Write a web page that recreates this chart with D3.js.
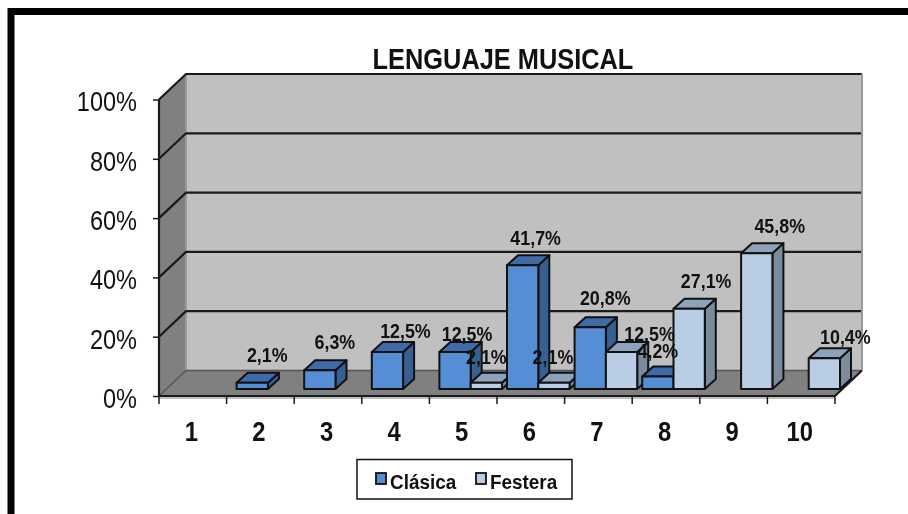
<!DOCTYPE html>
<html><head><meta charset="utf-8">
<script src="https://cdn.jsdelivr.net/npm/d3@7"></script>
<style>html,body{margin:0;padding:0;background:#fff}svg{display:block;filter:blur(0.35px)}text{font-family:"Liberation Sans",Arial,sans-serif;fill:#111}</style>
</head><body><div id="chart"></div>
<script>
const categories = ["1","2","3","4","5","6","7","8","9","10"];
const clasica = [0,2.1,6.3,12.5,12.5,41.7,20.8,4.2,0,0];
const festera = [0,0,0,0,2.1,2.1,12.5,27.1,45.8,10.4];
const seriesNames = ["Clásica","Festera"];
const yTicks = [0,20,40,60,80,100];
const title = "LENGUAJE MUSICAL";

const W=908,H=514;
const fmt = v => v.toFixed(1).replace(".",",")+"%";
const palette=[{front:"#558ed5",top:"#3f6ca8",side:"#375f90"},{front:"#b9cde5",top:"#8fa2bb",side:"#7a8b9e"}];
// label nudges relative to the bar's top-centre [dx,dy], manual in the source chart
const nudge=[
 {1:[15,-21],2:[15,-21],3:[18,-14],4:[12,-11],5:[13,-20],6:[15,-22],7:[0,-19]},
 {4:[0,-19],5:[-1,-19],6:[28,-11],7:[17,-21],8:[23,-20],9:[21,-14]}
];
const svg=d3.select("#chart").append("svg").attr("width",W).attr("height",H);
const squeeze=(t,f)=>t.each(function(){const w=this.getComputedTextLength();d3.select(this).attr("textLength",w*f).attr("lengthAdjust","spacingAndGlyphs");});

// frame
svg.append("rect").attr("x",11).attr("y",11.5).attr("width",W+20).attr("height",H+20).attr("fill","#fff").attr("stroke","#000").attr("stroke-width",7);

const x0=159,x1=835,dx=27,dy=-25.5;
const x=d3.scaleBand().domain(categories).range([x0,x1]);
const y=d3.scaleLinear().domain([0,100]).range([396,99.5]);
const ink="#1a1a1a";

// walls and floor
svg.append("polygon").attr("points",[[x0+dx,y(0)+dy],[x1+dx,y(0)+dy],[x1+dx,y(100)+dy],[x0+dx,y(100)+dy]].join(" ")).attr("fill","#c0c0c0");
svg.append("polygon").attr("points",[[x0,y(0)],[x0+dx,y(0)+dy],[x0+dx,y(100)+dy],[x0,y(100)]].join(" ")).attr("fill","#808080");
svg.append("polygon").attr("points",[[x0,y(0)],[x1,y(0)],[x1+dx,y(0)+dy],[x0+dx,y(0)+dy]].join(" ")).attr("fill","#808080");
svg.append("line").attr("x1",x0+dx).attr("x2",x0+dx).attr("y1",y(100)+dy).attr("y2",y(0)+dy).attr("stroke","#999").attr("stroke-width",2);

// gridlines
svg.append("g").selectAll("polyline").data(yTicks).join("polyline")
 .attr("points",d=>[[x0,y(d)],[x0+dx,y(d)+dy],[x1+dx,y(d)+dy]].join(" "))
 .attr("fill","none").attr("stroke",d=>d===0?"#555":ink).attr("stroke-width",d=>d===0?1.5:2.2);
svg.append("line").attr("x1",x1+dx).attr("x2",x1+dx).attr("y1",y(100)+dy).attr("y2",y(0)+dy).attr("stroke","#999").attr("stroke-width",2);
svg.append("path").attr("d",`M${x1+dx},${y(0)+dy}L${x1},${y(0)}L${x0},${y(0)}L${x0},${y(100)}`).attr("fill","none").attr("stroke",ink).attr("stroke-width",2.2);
svg.append("line").attr("x1",x0).attr("x2",x1).attr("y1",y(0)+2).attr("y2",y(0)+2).attr("stroke","#aaa").attr("stroke-width",1.5);

// axes
const yAxis=svg.append("g").attr("transform",`translate(${x0},0)`).call(d3.axisLeft(y).tickValues(yTicks).tickSize(6).tickPadding(16).tickFormat(d=>d+"%"));
yAxis.select(".domain").remove();
yAxis.selectAll("line").attr("stroke",ink).attr("stroke-width",1.5);
yAxis.selectAll("text").attr("font-size",28.5).attr("fill","#111").attr("dy","0.4em").call(squeeze,0.825);

const xAxis=svg.append("g").attr("transform",`translate(0,${y(0)})`).call(d3.axisBottom(x).tickSize(0).tickPadding(33).tickFormat(d=>d));
xAxis.select(".domain").remove();
xAxis.selectAll("line").remove();
xAxis.selectAll("text").attr("font-size",28).attr("font-weight","bold").attr("fill","#111").attr("dy","0.42em").call(squeeze,0.85);
xAxis.selectAll("text").attr("x",-1.5);
svg.append("g").selectAll("line").data([...categories.map(c=>x(c)),x1]).join("line")
 .attr("x1",d=>d).attr("x2",d=>d).attr("y1",y(0)).attr("y2",y(0)+8).attr("stroke",ink).attr("stroke-width",1.5);

// bars
const shiftX=7.5, shiftY=-7, bx=11, by=-10;
const inner=d3.scaleBand().domain([0,1]).range([2.5,x.step()-2.5]);
const values=[clasica,festera];
const g=svg.append("g");
const bars=[];
categories.forEach((c,i)=>values.forEach((vals,s)=>{ if(vals[i]>0) bars.push({c,i,s,v:vals[i]}); }));
bars.forEach(b=>{
 const l=x(b.c)+inner(b.s)+shiftX, r=l+inner.bandwidth(), b0=y(0)+shiftY, t=y(b.v)+shiftY, p=palette[b.s];
 b.l=l;b.r=r;b.t=t;
 const st={stroke:"#111","stroke-width":2,"stroke-linejoin":"round"};
 const add=(pts,f)=>{const e=g.append("polygon").attr("points",pts.join(" ")).attr("fill",f);Object.entries(st).forEach(([k,v])=>e.attr(k,v));};
 add([[r,b0],[r+bx,b0+by],[r+bx,t+by],[r,t]],p.side);
 add([[l,t],[r,t],[r+bx,t+by],[l+bx,t+by]],p.top);
 add([[l,b0],[r,b0],[r,t],[l,t]],p.front);
});

// value labels
svg.append("g").selectAll("text").data(bars).join("text")
 .attr("x",b=>(b.l+b.r)/2+nudge[b.s][b.i][0]).attr("y",b=>b.t+nudge[b.s][b.i][1])
 .attr("text-anchor","middle").attr("font-size",20.5).attr("font-weight","bold")
 .text(b=>fmt(b.v)).call(squeeze,0.87);

// title
svg.append("text").attr("x",503).attr("y",68.5).attr("text-anchor","middle").attr("font-size",29.5).attr("font-weight","bold").text(title).call(squeeze,0.86);

// legend
svg.append("rect").attr("x",357).attr("y",459.5).attr("width",215).attr("height",39.5).attr("fill","#fff").attr("stroke","#111").attr("stroke-width",1.5);
const lg=svg.append("g").selectAll("g").data(seriesNames).join("g").attr("transform",(d,i)=>`translate(${376+i*100},473)`);
lg.append("rect").attr("width",10).attr("height",11).attr("fill",(d,i)=>palette[i].front).attr("stroke","#111").attr("stroke-width",1.8);
lg.append("text").attr("x",14).attr("y",16).attr("font-size",21).attr("font-weight","bold").text(d=>d).call(squeeze,0.9);
</script></body></html>
